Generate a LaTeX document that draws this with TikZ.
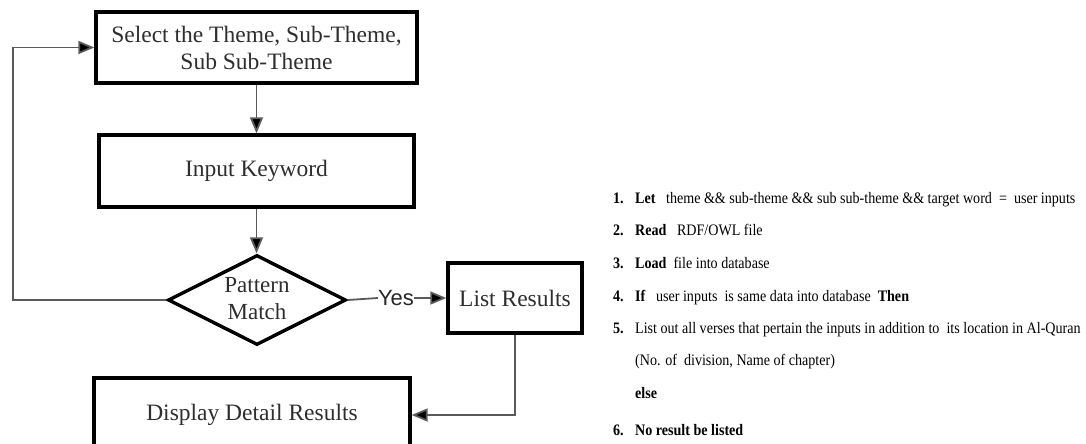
\documentclass[tikz,border=0pt]{standalone}
\usepackage{fontspec}
\setmainfont[FakeStretch=0.88]{Liberation Serif}
\newfontfamily\flowfont{Liberation Serif}
\newfontfamily\yesfont{Liberation Sans}
\usetikzlibrary{arrows.meta,shapes.geometric}
\definecolor{flowtext}{HTML}{2E2E2E}
\definecolor{conncol}{HTML}{5A5A5A}
\tikzset{
  stepbox/.style={draw=black,line width=3.4pt,rectangle,inner sep=0pt,
    font=\flowfont\fontsize{23.5}{27}\selectfont,text=flowtext,align=center},
  decision/.style={draw=black,line width=3.4pt,diamond,inner sep=0pt,
    minimum width=178pt,minimum height=90pt},
  conn/.style={draw=conncol,line width=1.8pt},
  arr/.style={conn,-{Triangle[length=16pt,width=13pt,fill=black]}},
  alg/.style={anchor=base west,inner sep=0pt,font=\fontsize{16}{18}\selectfont,text=black},
  num/.style={anchor=base west,inner sep=0pt,font=\bfseries\fontsize{16}{18}\selectfont,text=black},
}
\begin{document}
\begin{tikzpicture}[x=1pt,y=-1pt]
\useasboundingbox (0,0) rectangle (1086,444);
% flowchart
\node[stepbox,minimum width=321pt,minimum height=71pt] (b1) at (256.5,47.5)
  {Select the Theme, Sub-Theme,\\Sub Sub-Theme};
\node[stepbox,minimum width=315pt,minimum height=72pt] (b2) at (256.5,171) {Input Keyword};
\node[decision] (pm) at (257,300) {};
\node[inner sep=0pt,font=\flowfont\fontsize{23}{27}\selectfont,text=flowtext,align=center] (pmt) at (257,298.5) {Pattern\\Match};
\node[stepbox,minimum width=134pt,minimum height=70pt] (lr) at (515,298) {List Results};
\node[stepbox,minimum width=316pt,minimum height=74pt] (dd) at (252,415) {Display Detail Results};
\node[inner sep=0pt,font=\yesfont\fontsize{22}{26}\selectfont,text=black!85] (yes) at (396,298) {Yes};
\coordinate (lp) at (13,300);
% connectors
\draw[arr] (b1.south) -- (b2.north);
\draw[arr] (b2.south) -- (b2.south |- pm.north);
\draw[arr] (pm.west) -- (lp) -- (lp |- b1.west) -- (b1.west);
\draw[conn] (pm.east) -- (yes.west);
\draw[arr] (yes.east) -- (lr.west);
\draw[arr] (lr.south) |- (dd.east);
% algorithm text
\node[num] (n1) at (613,203) {1.};
\node[alg] (t1) at (635,203) {\textbf{Let}\ \ \ theme \&\& sub-theme \&\& sub sub-theme \&\& target word\ \ =\ \ user inputs};
\node[num] (n2) at (613,235) {2.};
\node[alg] (t2) at (635,235) {\textbf{Read}\ \ \ RDF/OWL file};
\node[num] (n3) at (613,268) {3.};
\node[alg] (t3) at (635,268) {\textbf{Load}\ \ file into database};
\node[num] (n4) at (613,301) {4.};
\node[alg] (t4) at (635,301) {\textbf{If}\ \ \ user inputs\ \ is same data into database\ \ \textbf{Then}};
\node[num] (n5) at (613,333) {5.};
\node[alg] (t5) at (635,333) {List out all verses that pertain the inputs in addition to\ \ its location in Al-Quran};
\node[alg] (t5b) at (635,365) {(No. of\ \ division, Name of chapter)};
\node[num] (t5c) at (635,398) {else};
\node[num] (n6) at (613,435) {6.};
\node[num] (t6) at (635,435) {No result be listed};
\end{tikzpicture}
\end{document}
